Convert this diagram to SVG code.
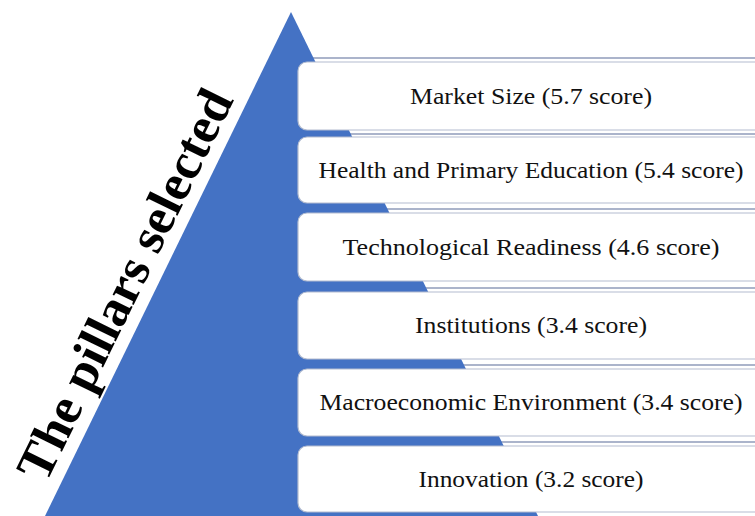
<svg xmlns="http://www.w3.org/2000/svg" width="755" height="516" viewBox="0 0 755 516">
  <style>
    .rule { stroke: #8f9bba; stroke-width: 1.6; }
    .box { fill: #ffffff; stroke: #b3bccf; stroke-width: 1.2; }
    .label { font-family: 'Liberation Serif', 'Times New Roman', 'DejaVu Serif', serif; font-size: 23px; fill: #111111; text-anchor: middle; }
    .title { font-family: 'Liberation Serif', 'Times New Roman', 'DejaVu Serif', serif; font-size: 51px; font-weight: bold; fill: #000000; text-anchor: middle; }
  </style>
  <rect width="755" height="516" fill="#ffffff"/>

  <!-- thin rules sitting above each level, partly hidden by the pyramid -->
  <g id="connectors">
    <line class="rule" x1="300" y1="58" x2="755" y2="58"/>
    <line class="rule" x1="300" y1="134" x2="755" y2="134"/>
    <line class="rule" x1="300" y1="209" x2="755" y2="209"/>
    <line class="rule" x1="300" y1="288" x2="755" y2="288"/>
    <line class="rule" x1="300" y1="365" x2="755" y2="365"/>
    <line class="rule" x1="300" y1="442" x2="755" y2="442"/>
  </g>

  <!-- pyramid -->
  <g id="pyramid">
    <polygon points="291,12 45,516 538,516" fill="#4472c4"/>
  </g>

  <!-- title along the left slope -->
  <g id="title">
    <text class="title" transform="translate(140,292) rotate(-63.9)" textLength="428" lengthAdjust="spacingAndGlyphs">The pillars selected</text>
  </g>

  <!-- pillar levels -->
  <g id="level-1">
    <rect class="box" x="298" y="62" width="480" height="68" rx="9"/>
    <text class="label" x="531" y="103.5" textLength="242" lengthAdjust="spacingAndGlyphs">Market Size (5.7 score)</text>
  </g>
  <g id="level-2">
    <rect class="box" x="298" y="137" width="480" height="66" rx="9"/>
    <text class="label" x="531" y="177.5" textLength="425" lengthAdjust="spacingAndGlyphs">Health and Primary Education (5.4 score)</text>
  </g>
  <g id="level-3">
    <rect class="box" x="298" y="213" width="480" height="68" rx="9"/>
    <text class="label" x="531" y="254.5" textLength="377" lengthAdjust="spacingAndGlyphs">Technological Readiness (4.6 score)</text>
  </g>
  <g id="level-4">
    <rect class="box" x="298" y="292" width="480" height="67" rx="9"/>
    <text class="label" x="531" y="333" textLength="232" lengthAdjust="spacingAndGlyphs">Institutions (3.4 score)</text>
  </g>
  <g id="level-5">
    <rect class="box" x="298" y="369" width="480" height="67" rx="9"/>
    <text class="label" x="531" y="410" textLength="423" lengthAdjust="spacingAndGlyphs">Macroeconomic Environment (3.4 score)</text>
  </g>
  <g id="level-6">
    <rect class="box" x="298" y="446" width="480" height="66" rx="9"/>
    <text class="label" x="531" y="486.5" textLength="225" lengthAdjust="spacingAndGlyphs">Innovation (3.2 score)</text>
  </g>
</svg>
